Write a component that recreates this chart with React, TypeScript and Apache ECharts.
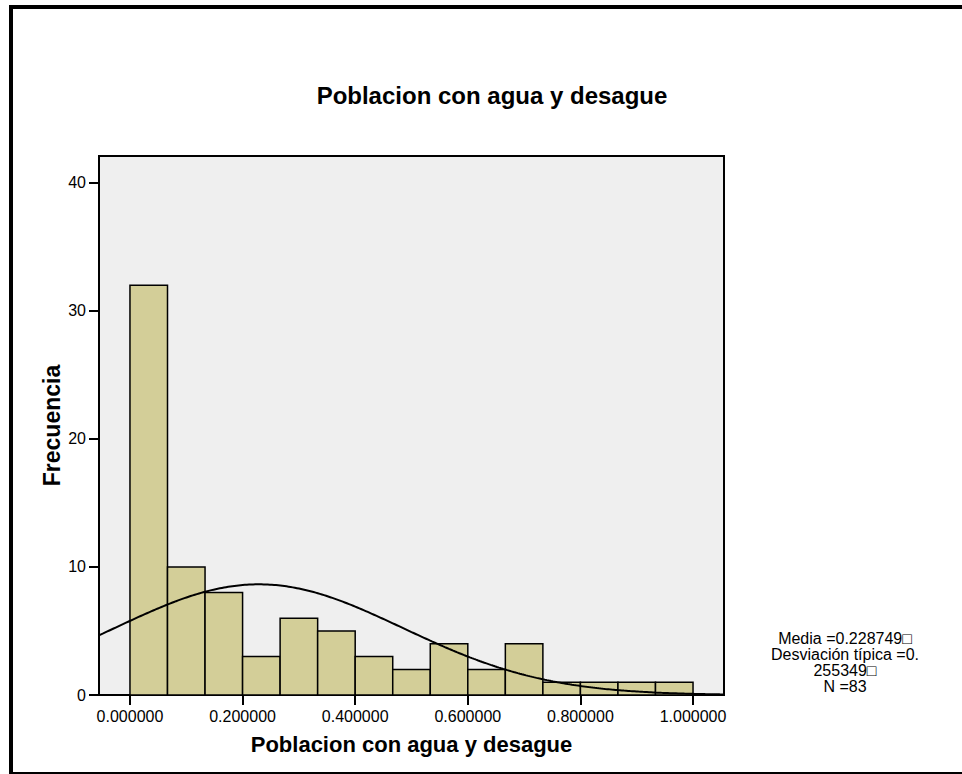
import React, { useEffect, useRef } from "react";
import * as echarts from "echarts";

const title = "Poblacion con agua y desague";
const xAxisName = "Poblacion con agua y desague";
const yAxisName = "Frecuencia";
const binStart = 0;
const binWidth = 1 / 15;
const counts = [32, 10, 8, 3, 6, 5, 3, 2, 4, 2, 4, 1, 1, 1, 1];
const xTicks = [0, 0.2, 0.4, 0.6, 0.8, 1.0];
const yTicks = [0, 10, 20, 30, 40];
const mean = 0.228749;
const sd = 0.255349;
const n = 83;
const statsLines = ["Media =0.228749\u25A1", "Desviación típica =0.", "255349\u25A1", "N =83"];

const X_MIN = -0.055;
const X_MAX = 1.055;
const Y_MAX = 42.1;
const FONT = "'Liberation Sans', Arial, sans-serif";

export default function App() {
  const ref = useRef<HTMLDivElement>(null);
  useEffect(() => {
    if (!ref.current) return;
    const chart = echarts.init(ref.current, null, { renderer: "svg" });
    const bars = counts.map((c, i) => [binStart + i * binWidth, binStart + (i + 1) * binWidth, c]);
    const curve: number[][] = [];
    const steps = 300;
    for (let i = 0; i <= steps; i++) {
      const x = X_MIN + ((X_MAX - X_MIN) * i) / steps;
      const z = (x - mean) / sd;
      const y = (n * binWidth) / (sd * Math.sqrt(2 * Math.PI)) * Math.exp(-0.5 * z * z);
      curve.push([x, y]);
    }
    chart.setOption({
      animation: false,
      textStyle: { fontFamily: FONT },
      title: {
        text: title,
        left: 487,
        top: 78,
        textAlign: "center",
        textStyle: { fontFamily: FONT, fontSize: 24, fontWeight: "bold", color: "#000" },
      },
      grid: {
        left: 99,
        right: 238,
        top: 156,
        bottom: 79,
        show: true,
        backgroundColor: "#EFEFEF",
        borderColor: "#000",
        borderWidth: 2,
      },
      xAxis: {
        type: "value",
        min: X_MIN,
        max: X_MAX,
        name: xAxisName,
        nameLocation: "middle",
        nameGap: 38,
        nameMoveOverlap: false,
        nameTextStyle: { fontFamily: FONT, fontSize: 22, fontWeight: "bold", color: "#000" },
        splitLine: { show: false },
        axisLine: { show: true, onZero: false, lineStyle: { color: "#000", width: 2 } },
        axisTick: { show: true, customValues: xTicks, length: 10, lineStyle: { color: "#000", width: 2 } },
        axisLabel: {
          customValues: xTicks,
          margin: 13,
          fontFamily: FONT,
          fontSize: 16,
          color: "#000",
          formatter: (v: number) => v.toFixed(6),
        },
      },
      yAxis: {
        type: "value",
        min: 0,
        max: Y_MAX,
        name: yAxisName,
        nameLocation: "middle",
        nameGap: 36,
        nameMoveOverlap: false,
        nameTextStyle: { fontFamily: FONT, fontSize: 23, fontWeight: "bold", color: "#000" },
        splitLine: { show: false },
        axisLine: { show: true, onZero: false, lineStyle: { color: "#000", width: 2 } },
        axisTick: { show: true, customValues: yTicks, length: 10, lineStyle: { color: "#000", width: 2 } },
        axisLabel: {
          customValues: yTicks,
          margin: 13,
          fontFamily: FONT,
          fontSize: 16,
          color: "#000",
        },
      },
      series: [
        {
          type: "custom",
          data: bars,
          encode: { x: [0, 1], y: 2 },
          clip: true,
          renderItem: (params: any, api: any) => {
            const p0 = api.coord([api.value(0), api.value(2)]);
            const p1 = api.coord([api.value(1), 0]);
            return {
              type: "rect",
              shape: { x: p0[0], y: p0[1], width: p1[0] - p0[0], height: p1[1] - p0[1] },
              style: { fill: "#D3CE98", stroke: "#000", lineWidth: 1.5 },
            };
          },
          z: 2,
        },
        {
          type: "line",
          data: curve,
          showSymbol: false,
          symbol: "none",
          smooth: false,
          clip: true,
          lineStyle: { color: "#000", width: 2 },
          z: 3,
        },
      ],
      graphic: [
        {
          type: "rect",
          shape: { x: 11, y: 7, width: 1000, height: 767 },
          style: { fill: "none", stroke: "#000", lineWidth: 4 },
          silent: true,
        },
        {
          type: "text",
          x: 845,
          y: 630,
          style: {
            text: statsLines.join("\n"),
            fontFamily: FONT,
            fontSize: 16,
            lineHeight: 16,
            fill: "#000",
            align: "center",
            verticalAlign: "top",
          },
        },
      ],
    });
    return () => chart.dispose();
  }, []);
  return <div ref={ref} style={{ position: "absolute", left: 0, top: 0, width: 962, height: 774 }} />;
}
